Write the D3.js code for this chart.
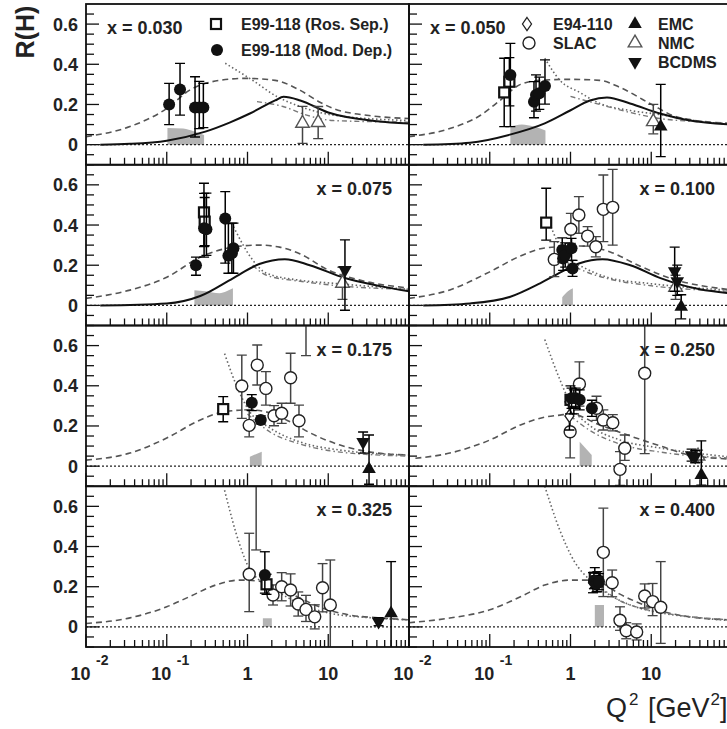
<!DOCTYPE html>
<html>
<head>
<meta charset="utf-8">
<script src="https://cdn.jsdelivr.net/npm/d3@7"></script>
<style>
  body { margin: 0; background: #fff; }
  text { font-family: "Liberation Sans", Arial, Helvetica, sans-serif; }
</style>
</head>
<body>
<div id="chart"></div>
<script>
// ---- data ----
var xLabels = ["x = 0.030", "x = 0.050", "x = 0.075", "x = 0.100",
               "x = 0.175", "x = 0.250", "x = 0.325", "x = 0.400"];
var yTickValues = [0, 0.2, 0.4, 0.6];
var yTickLabels = ["0", "0.2", "0.4", "0.6"];
var xTickValues = [0.01, 0.1, 1, 10];
var xTickBase = ["10", "10", "1", "10"];
var xTickExp = ["-2", "-1", "", ""];

// model curves per panel: [Q2, R]
var solidCurve = [
  [[0.015,0],[0.035,0.004],[0.1,0.02],[0.3,0.065],[0.6,0.11],[1.07,0.155],[2.2,0.22],[2.8,0.238],[4.5,0.22],[10,0.16],[40,0.117],[100,0.105]],
  [[0.015,0],[0.057,0.01],[0.178,0.05],[0.48,0.106],[0.99,0.17],[1.74,0.22],[2.83,0.235],[5.46,0.205],[12.8,0.155],[30,0.12],[100,0.1]],
  [[0.015,0],[0.1,0.01],[0.26,0.047],[0.66,0.135],[1.4,0.206],[2.9,0.23],[5.9,0.2],[16,0.136],[44,0.096],[100,0.07]],
  [[0.015,0],[0.057,0.01],[0.18,0.043],[0.42,0.11],[0.85,0.176],[1.3,0.21],[2.5,0.23],[5.5,0.2],[13,0.136],[40,0.08],[100,0.06]],
  [], [], [], []
];
var dashedCurve = [
  [[0.01,0.04],[0.035,0.09],[0.1,0.18],[0.19,0.27],[0.45,0.32],[0.93,0.33],[2.2,0.32],[4.5,0.27],[8,0.21],[11.5,0.18],[32,0.145],[100,0.13]],
  [[0.01,0.04],[0.032,0.08],[0.076,0.145],[0.134,0.22],[0.24,0.3],[0.42,0.32],[0.98,0.325],[2.3,0.32],[4.1,0.285],[9.6,0.205],[22,0.135],[100,0.105]],
  [[0.01,0.035],[0.035,0.076],[0.1,0.14],[0.26,0.24],[0.6,0.287],[1.4,0.3],[2.5,0.29],[4.5,0.256],[10,0.176],[24,0.127],[100,0.086]],
  [[0.01,0.035],[0.032,0.077],[0.1,0.167],[0.24,0.246],[0.48,0.286],[1.3,0.296],[3.1,0.266],[7.2,0.196],[17,0.136],[100,0.077]],
  [[0.01,0.03],[0.035,0.065],[0.1,0.14],[0.26,0.23],[0.5,0.27],[1.07,0.28],[1.9,0.265],[3.4,0.22],[6,0.165],[14,0.105],[33,0.07],[100,0.055]],
  [[0.012,0.039],[0.032,0.065],[0.1,0.13],[0.24,0.205],[0.48,0.244],[0.74,0.254],[1.0,0.26],[2.3,0.205],[5.5,0.15],[13,0.1],[30,0.055],[100,0.035]],
  [[0.01,0.017],[0.035,0.045],[0.1,0.1],[0.19,0.15],[0.4,0.208],[0.8,0.233],[1.4,0.228],[2.5,0.193],[4.5,0.143],[8,0.098],[18.5,0.059],[44,0.045],[100,0.035]],
  [[0.01,0.021],[0.032,0.044],[0.1,0.085],[0.24,0.15],[0.48,0.208],[0.98,0.233],[1.74,0.233],[2.3,0.223],[4.1,0.163],[7.2,0.118],[13,0.08],[30,0.05],[100,0.035]]
];
var dottedCurve = [
  [[0.53,0.405],[1.16,0.32],[2.3,0.24],[4.5,0.19],[11.5,0.147],[100,0.12]],
  [[0.48,0.43],[0.74,0.32],[1.3,0.26],[2.3,0.205],[5.5,0.17],[12.8,0.15],[35,0.12],[100,0.1]],
  [[0.67,0.392],[1.16,0.226],[1.72,0.16],[4.5,0.125],[11.6,0.11],[100,0.08]],
  [[0.55,0.41],[0.85,0.25],[1.5,0.186],[3.1,0.136],[9,0.11],[100,0.075]],
  [[0.52,0.56],[0.8,0.364],[1.07,0.27],[1.9,0.19],[4.5,0.12],[14,0.08],[100,0.055]],
  [[0.48,0.63],[0.74,0.43],[1.1,0.28],[1.7,0.205],[4.1,0.13],[13,0.09],[100,0.045]],
  [[0.52,0.68],[0.8,0.41],[1.07,0.285],[1.4,0.233],[2.5,0.169],[4.5,0.114],[10,0.07],[35,0.045],[100,0.035]],
  [[0.48,0.7],[0.74,0.48],[1.1,0.33],[1.74,0.233],[2.7,0.173],[5.5,0.109],[13,0.07],[40,0.045],[100,0.03]]
];
var dashDotCurve = [
  [[1.31,0.214],[2.75,0.19],[5.4,0.147],[11.5,0.12],[100,0.112]],
  [[1.0,0.24],[2.3,0.2],[5.5,0.16],[12.8,0.13],[35,0.115],[100,0.105]],
  [[1.16,0.2],[1.72,0.15],[4.5,0.12],[11.6,0.1],[100,0.08]],
  [[0.85,0.22],[1.5,0.17],[3.1,0.13],[9,0.1],[100,0.07]],
  [[1.0,0.26],[1.9,0.17],[4.5,0.11],[14,0.07],[100,0.05]],
  [[1.0,0.25],[1.7,0.18],[4.1,0.11],[13,0.07],[100,0.04]],
  [],
  [[2.3,0.2],[4.1,0.13],[8,0.09],[20,0.06],[100,0.035]]
];
// systematic error bands: top edge [Q2, R], filled down to 0
var sysBand = [
  [[0.102,0.083],[0.16,0.08],[0.22,0.065],[0.29,0.048]],
  [[0.18,0.09],[0.25,0.1],[0.35,0.09],[0.49,0.07]],
  [[0.22,0.075],[0.3,0.07],[0.45,0.06],[0.55,0.07],[0.66,0.085]],
  [[0.79,0.04],[0.93,0.07],[1.07,0.085]],
  [[1.07,0.047],[1.5,0.072]],
  [[1.3,0.122],[1.83,0.055]],
  [[1.55,0.043],[2.0,0.043]],
  [[2.0,0.109],[2.6,0.109]]
];

// data sets: [panel, Q2, R, errDown, errUp]
var modDep = [
  [0,0.107,0.2,0.1,0.105],[0,0.146,0.275,0.128,0.13],[0,0.224,0.185,0.147,0.153],[0,0.253,0.185,0.105,0.13],[0,0.284,0.185,0.1,0.12],
  [1,0.18,0.347,0.257,0.157],[1,0.353,0.214,0.08,0.1],[1,0.374,0.247,0.08,0.1],[1,0.411,0.256,0.08,0.08],[1,0.483,0.292,0.09,0.13],
  [2,0.23,0.2,0.05,0.04],[2,0.29,0.384,0.144,0.174],[2,0.31,0.379,0.13,0.18],[2,0.53,0.433,0.223,0.133],[2,0.58,0.247,0.087,0.16],[2,0.64,0.259,0.1,0.15],[2,0.67,0.284,0.124,0.125],
  [3,0.79,0.276,0.06,0.06],[3,0.81,0.234,0.06,0.06],[3,0.86,0.251,0.06,0.06],[3,1.03,0.284,0.06,0.05],[3,1.06,0.184,0.04,0.04],
  [4,1.13,0.316,0.04,0.04],[4,1.46,0.23,0.02,0.02],
  [5,1.03,0.338,0.05,0.05],[5,1.16,0.338,0.05,0.05],[5,1.3,0.33,0.05,0.05],[5,1.84,0.288,0.04,0.04],
  [6,1.64,0.258,0.09,0.116],
  [7,1.95,0.23,0.04,0.04],[7,2.1,0.215,0.04,0.04],[7,2.25,0.225,0.04,0.04]
];
var rosSep = [
  [1,0.151,0.26,0.17,0.17],[1,0.175,0.313,0.12,0.12],
  [2,0.289,0.463,0.17,0.145],[2,0.295,0.417,0.12,0.12],
  [3,0.5,0.412,0.087,0.171],
  [4,0.5,0.284,0.063,0.062],
  [5,1.0,0.33,0.07,0.07],[5,1.1,0.32,0.06,0.06],
  [6,1.72,0.212,0.05,0.05],
  [7,2.0,0.245,0.05,0.05],[7,2.15,0.225,0.05,0.05]
];
var e94 = [
  [5,0.97,0.25,0.07,0.07],
  [7,1.9,0.22,0.05,0.05]
];
var slac = [
  [3,0.63,0.229,0.086,0.088],[3,1.01,0.379,0.07,0.079],[3,1.27,0.45,0.091,0.091],[3,1.63,0.345,0.05,0.047],[3,2.06,0.292,0.05,0.05],[3,2.55,0.478,0.161,0.171],[3,3.33,0.488,0.188,0.189],
  [4,0.85,0.399,0.161,0.154],[4,1.05,0.203,0.057,0.077],[4,1.32,0.503,0.099,0.1],[4,1.69,0.387,0.083,0.083],[4,2.13,0.251,0.05,0.05],[4,2.65,0.263,0.05,0.05],[4,3.42,0.44,0.127,0.122],[4,4.34,0.226,0.08,0.078],[4,5.3,0.85,0.3,0.3],
  [5,0.99,0.171,0.13,0.09],[5,1.29,0.409,0.11,0.11],[5,2.1,0.288,0.06,0.06],[5,2.55,0.23,0.05,0.05],[5,3.34,0.216,0.04,0.04],[5,4.7,0.089,0.06,0.066],[5,4.1,-0.016,0.08,0.088],[5,8.3,0.462,0.4,0.4],
  [6,1.05,0.262,0.186,0.204],[6,1.28,0.9,0.517,0.1],[6,2.07,0.159,0.05,0.05],[6,2.65,0.2,0.07,0.07],[6,3.42,0.184,0.08,0.08],[6,4.25,0.114,0.06,0.06],[6,5.3,0.087,0.06,0.07],[6,6.8,0.05,0.06,0.06],[6,8.5,0.195,0.12,0.12],[6,10.6,0.109,0.25,0.224],
  [7,2.55,0.371,0.22,0.22],[7,3.28,0.22,0.07,0.063],[7,4.1,0.033,0.05,0.067],[7,4.9,-0.019,0.04,0.04],[7,6.6,-0.025,0.04,0.04],[7,8.3,0.154,0.06,0.06],[7,10.4,0.126,0.07,0.09],[7,13.1,0.098,0.18,0.227]
];
var emc = [
  [1,13.1,0.09,0.15,0.21],
  [3,23.5,-0.007,0.06,0.06],
  [4,32,-0.015,0.075,0.17],
  [5,41.7,-0.044,0.05,0.17],
  [6,60,0.067,0.2,0.258]
];
var nmc = [
  [0,4.8,0.106,0.1,0.085],[0,7.5,0.11,0.08,0.08],
  [1,10.6,0.114,0.06,0.086],
  [2,15,0.11,0.08,0.08],
  [3,20,0.09,0.06,0.06],
  [5,38,0.05,0.03,0.03]
];
var bcdms = [
  [2,16.1,0.176,0.2,0.15],
  [3,19.5,0.17,0.1,0.12],[3,21,0.12,0.07,0.08],
  [4,27,0.12,0.055,0.05],
  [5,31.6,0.055,0.03,0.03],[5,35,0.047,0.03,0.03],
  [6,42,0.026,0.02,0.02]
];

// ---- layout ----
var width = 727, height = 729;
var left = 86, top0 = 4, panelW = 323, panelH = 160.75;

var svg = d3.select("#chart")
    .append("svg")
    .attr("width", width)
    .attr("height", height);

var panels = d3.range(8).map(function(i) {
    var col = i % 2, row = Math.floor(i / 2);
    var x0 = left + col * panelW, y0 = top0 + row * panelH;
    return {
        i: i, col: col, row: row, x0: x0, y0: y0,
        x: d3.scaleLog().domain([0.01, 100]).range([x0, x0 + panelW]),
        y: d3.scaleLinear().domain([-0.1, 0.7]).range([y0 + panelH, y0])
    };
});

var defs = svg.append("defs");
panels.forEach(function(p) {
    defs.append("clipPath").attr("id", "clip" + p.i)
        .append("rect")
        .attr("x", p.x0).attr("y", p.y0)
        .attr("width", panelW).attr("height", panelH);
});

var symTri = d3.symbol().type(d3.symbolTriangle).size(80);
var symDia = "M0,-6.5L4.5,0L0,6.5L-4.5,0Z";

function drawSet(p, g, data, kind) {
    var rows = data.filter(function(d) { return d[0] === p.i; });
    var errColor = (kind === "slac" || kind === "nmc") ? "#444" : "#000";
    rows.forEach(function(d) {
        var cx = p.x(d[1]);
        var ylo = p.y(d[2] - d[3]), yhi = p.y(d[2] + d[4]);
        g.append("line").attr("x1", cx).attr("x2", cx).attr("y1", ylo).attr("y2", yhi)
            .attr("stroke", errColor).attr("stroke-width", 1.5);
        [ylo, yhi].forEach(function(yy) {
            g.append("line").attr("x1", cx - 5).attr("x2", cx + 5).attr("y1", yy).attr("y2", yy)
                .attr("stroke", errColor).attr("stroke-width", 1.3);
        });
    });
    rows.forEach(function(d) {
        drawMarker(g, kind, p.x(d[1]), p.y(d[2]));
    });
}

function drawMarker(g, kind, cx, cy) {
    if (kind === "modDep") {
        g.append("circle").attr("cx", cx).attr("cy", cy).attr("r", 6).attr("fill", "#111");
    } else if (kind === "slac") {
        g.append("circle").attr("cx", cx).attr("cy", cy).attr("r", 6)
            .attr("fill", "#fff").attr("stroke", "#222").attr("stroke-width", 1.4);
    } else if (kind === "rosSep") {
        g.append("rect").attr("x", cx - 5).attr("y", cy - 5).attr("width", 10).attr("height", 10)
            .attr("fill", "#fff").attr("stroke", "#111").attr("stroke-width", 2.2);
    } else if (kind === "e94") {
        g.append("path").attr("d", symDia).attr("transform", "translate(" + cx + "," + cy + ")")
            .attr("fill", "#fff").attr("stroke", "#222").attr("stroke-width", 1.3);
    } else if (kind === "emc") {
        g.append("path").attr("d", symTri).attr("transform", "translate(" + cx + "," + cy + ")")
            .attr("fill", "#111");
    } else if (kind === "nmc") {
        g.append("path").attr("d", symTri).attr("transform", "translate(" + cx + "," + cy + ")")
            .attr("fill", "#fff").attr("stroke", "#555").attr("stroke-width", 1.4);
    } else if (kind === "bcdms") {
        g.append("path").attr("d", symTri).attr("transform", "translate(" + cx + "," + cy + ") rotate(180)")
            .attr("fill", "#111");
    }
}

panels.forEach(function(p) {
    var g = svg.append("g").attr("clip-path", "url(#clip" + p.i + ")");

    // systematic band
    var band = sysBand[p.i];
    if (band.length) {
        var area = d3.area()
            .x(function(d) { return p.x(d[0]); })
            .y0(p.y(0))
            .y1(function(d) { return p.y(d[1]); })
            .curve(d3.curveMonotoneX);
        g.append("path").attr("d", area(band)).attr("fill", "#b3b3b3");
    }

    // zero line
    g.append("line")
        .attr("x1", p.x0).attr("x2", p.x0 + panelW)
        .attr("y1", p.y(0)).attr("y2", p.y(0))
        .attr("stroke", "#222").attr("stroke-width", 1.2)
        .attr("stroke-dasharray", "2,2");

    var line = d3.line()
        .x(function(d) { return p.x(d[0]); })
        .y(function(d) { return p.y(d[1]); })
        .curve(d3.curveMonotoneX);

    if (dashedCurve[p.i].length)
        g.append("path").attr("d", line(dashedCurve[p.i])).attr("fill", "none")
            .attr("stroke", "#555").attr("stroke-width", 1.6).attr("stroke-dasharray", "6,4");
    if (dottedCurve[p.i].length)
        g.append("path").attr("d", line(dottedCurve[p.i])).attr("fill", "none")
            .attr("stroke", "#666").attr("stroke-width", 1.6).attr("stroke-dasharray", "1.5,2.5");
    if (dashDotCurve[p.i].length)
        g.append("path").attr("d", line(dashDotCurve[p.i])).attr("fill", "none")
            .attr("stroke", "#777").attr("stroke-width", 1.4).attr("stroke-dasharray", "5,3,1.5,3");
    if (solidCurve[p.i].length)
        g.append("path").attr("d", line(solidCurve[p.i])).attr("fill", "none")
            .attr("stroke", "#111").attr("stroke-width", 2);

    drawSet(p, g, slac, "slac");
    drawSet(p, g, nmc, "nmc");
    drawSet(p, g, e94, "e94");
    drawSet(p, g, rosSep, "rosSep");
    drawSet(p, g, modDep, "modDep");
    drawSet(p, g, emc, "emc");
    drawSet(p, g, bcdms, "bcdms");

    // frame
    svg.append("rect")
        .attr("x", p.x0).attr("y", p.y0)
        .attr("width", panelW).attr("height", panelH)
        .attr("fill", "none").attr("stroke", "#111").attr("stroke-width", 1.8);

    // x ticks (bottom, pointing up)
    p.x.ticks().forEach(function(t) {
        var major = Math.abs(Math.log10(t) - Math.round(Math.log10(t))) < 1e-6;
        var len = major ? 13 : 7;
        svg.append("line")
            .attr("x1", p.x(t)).attr("x2", p.x(t))
            .attr("y1", p.y0 + panelH).attr("y2", p.y0 + panelH - len)
            .attr("stroke", "#111").attr("stroke-width", 1.3);
    });

    // y ticks (left edge, pointing right)
    d3.range(-2, 14).forEach(function(k) {
        var v = k * 0.05;
        var major = k % 4 === 0;
        var len = major ? 13 : 8;
        svg.append("line")
            .attr("x1", p.x0).attr("x2", p.x0 + len)
            .attr("y1", p.y(v)).attr("y2", p.y(v))
            .attr("stroke", "#111").attr("stroke-width", 1.3);
    });

    // panel label
    var lab = svg.append("text")
        .attr("y", p.y0 + 30)
        .attr("font-size", 18).attr("font-weight", "bold").attr("fill", "#222")
        .text(xLabels[p.i]);
    if (p.row === 0) lab.attr("x", p.x0 + 21).attr("text-anchor", "start");
    else lab.attr("x", p.x0 + panelW - 17).attr("text-anchor", "end");

    // y tick labels on the left column
    if (p.col === 0) {
        yTickValues.forEach(function(v, k) {
            svg.append("text")
                .attr("x", 78).attr("y", p.y(v) + 6.5)
                .attr("text-anchor", "end")
                .attr("font-size", 18).attr("font-weight", "bold").attr("fill", "#222")
                .text(yTickLabels[k]);
        });
    }

    // x tick labels on the bottom row
    if (p.row === 3) {
        xTickValues.forEach(function(v, k) {
            var tx = p.x(v);
            if (xTickExp[k]) {
                svg.append("text").attr("x", tx + 4.5).attr("y", 680)
                    .attr("text-anchor", "end").attr("font-size", 18).attr("font-weight", "bold").attr("fill", "#222")
                    .text(xTickBase[k]);
                svg.append("text").attr("x", tx + 10).attr("y", 665)
                    .attr("text-anchor", "start").attr("font-size", 14).attr("font-weight", "bold").attr("fill", "#222")
                    .text(xTickExp[k]);
            } else {
                svg.append("text").attr("x", tx).attr("y", 680)
                    .attr("text-anchor", "middle").attr("font-size", 18).attr("font-weight", "bold").attr("fill", "#222")
                    .text(xTickBase[k]);
            }
        });
    }
});

// legends
var leg1 = [
    {kind: "rosSep", x: 216, y: 24, label: "E99-118 (Ros. Sep.)", tx: 241, ty: 30},
    {kind: "modDep", x: 217, y: 50, label: "E99-118 (Mod. Dep.)", tx: 241, ty: 56}
];
var leg2 = [
    {kind: "e94", x: 527, y: 24, label: "E94-110", tx: 553, ty: 30},
    {kind: "slac", x: 529, y: 43, label: "SLAC", tx: 553, ty: 49},
    {kind: "emc", x: 635, y: 24, label: "EMC", tx: 658, ty: 30},
    {kind: "nmc", x: 635, y: 43, label: "NMC", tx: 658, ty: 49},
    {kind: "bcdms", x: 635, y: 62, label: "BCDMS", tx: 658, ty: 68}
];
var legG = svg.append("g");
leg1.concat(leg2).forEach(function(d) {
    drawMarker(legG, d.kind, d.x, d.y);
    legG.append("text").attr("x", d.tx).attr("y", d.ty)
        .attr("font-size", 16).attr("font-weight", "bold").attr("fill", "#222")
        .text(d.label);
});

// axis titles
svg.append("text")
    .attr("transform", "translate(34,32) rotate(-90)")
    .attr("text-anchor", "middle")
    .attr("font-size", 25).attr("font-weight", "bold").attr("fill", "#222")
    .text("R(H)");

var xt = svg.append("text")
    .attr("x", 606).attr("y", 717)
    .attr("font-size", 27).attr("fill", "#222");
xt.append("tspan").text("Q");
xt.append("tspan").attr("font-size", 17).attr("dy", -12).attr("dx", 2).text("2");
xt.append("tspan").attr("dy", 12).attr("dx", 2).text(" [GeV");
xt.append("tspan").attr("font-size", 17).attr("dy", -12).attr("dx", 1).text("2");
xt.append("tspan").attr("dy", 12).text("]");
</script>
</body>
</html>
